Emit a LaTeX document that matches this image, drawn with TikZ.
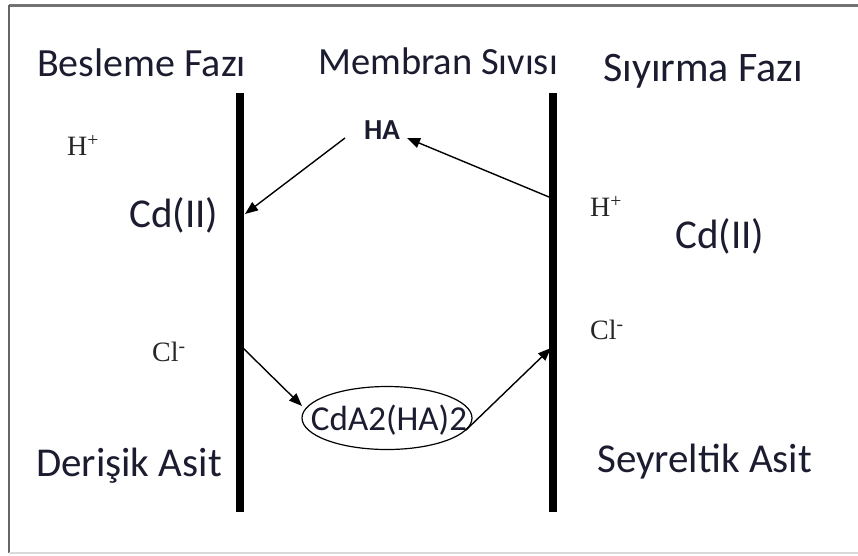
\documentclass[tikz,border=0pt]{standalone}
\usepackage{fontspec}
\setmainfont{Carlito}
\newfontfamily\serifion{Liberation Serif}
\usetikzlibrary{arrows.meta,shapes.geometric}
\definecolor{txt}{HTML}{1C1C30}
\tikzset{
  lbl/.style={font=\fontsize{41}{44}\selectfont, text=txt, inner sep=0pt, anchor=west},
  ion/.style={font=\serifion\fontsize{28}{30}\selectfont, text=black!85, inner sep=0pt, anchor=west},
  bar/.style={line width=8pt, black},
  flow/.style={line width=1.4pt, -{Triangle[length=13pt,width=10pt]}},
}
\begin{document}
\begin{tikzpicture}[x=1pt,y=-1pt]
\useasboundingbox (0,0) rectangle (858,555);
\fill[white] (0,0) rectangle (858,555);
% frame
\draw[line width=3pt, black!55] (9,5) -- (858,5);
\draw[line width=2.5pt, black!60] (9,5) -- (9,553);
\draw[line width=1.5pt, black!15] (9,553) -- (858,553);
% membranes
\coordinate (L1) at (240,93); \coordinate (L2) at (240,512);
\coordinate (R1) at (553,93); \coordinate (R2) at (553,512);
\draw[bar] (L1) -- (L2);
\draw[bar] (R1) -- (R2);
% headings
\node[lbl, font=\fontsize{40}{43}\selectfont] (bf) at (37,63) {Besleme Fazı};
\node[lbl, font=\fontsize{38.5}{41}\selectfont] (ms) at (318,61) {Membran Sıvısı};
\node[lbl, font=\fontsize{42}{45}\selectfont] (sf) at (603,71) {Sıyırma Fazı};
\node[lbl] (da) at (36,466) {Derişik Asit};
\node[lbl] (sa) at (597,462) {Seyreltik Asit};
% species
\node[ion] (h1) at (67,145) {H\textsuperscript{+}};
\node[lbl] (cd1) at (129,215) {Cd(II)};
\node[ion] (cl1) at (152,352) {Cl\textsuperscript{-}};
\node[ion] (h2) at (590,206) {H\textsuperscript{+}};
\node[lbl] (cd2) at (675,236) {Cd(II)};
\node[ion] (cl2) at (590,330) {Cl\textsuperscript{-}};
\node[font=\bfseries\fontsize{29}{32}\selectfont, text=txt, inner sep=0pt] (ha) at (382,130) {HA};
\node[draw, ellipse, line width=1.2pt, minimum width=170pt, minimum height=63pt, inner sep=0pt] (cx) at (387,418) {};
\node[font=\fontsize{35}{38}\selectfont, text=txt, inner sep=0pt] (cxt) at (389,420) {CdA2(HA)2};
% arrows
\coordinate (a1s) at (345,138); \coordinate (a1e) at (245,214);
\coordinate (a2s) at (549,197); \coordinate (a2e) at (407,138);
\coordinate (a3s) at (243,348); \coordinate (a3e) at (302,406);
\coordinate (a4s) at (466,430); \coordinate (a4e) at (551,348);
\draw[flow] (a1s) -- (a1e);
\draw[flow] (a2s) -- (a2e);
\draw[flow] (a3s) -- (a3e);
\draw[flow] (a4s) -- (a4e);
\end{tikzpicture}
\end{document}
